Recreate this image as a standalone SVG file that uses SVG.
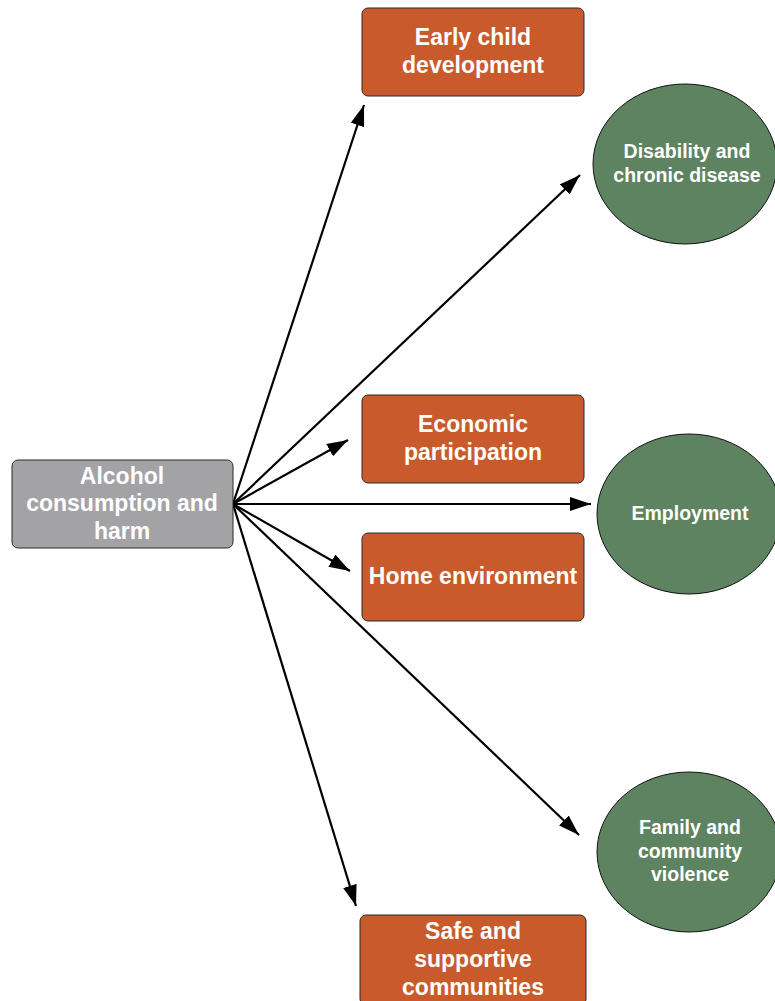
<svg xmlns="http://www.w3.org/2000/svg" width="775" height="1001" viewBox="0 0 775 1001">
<defs>
<style>
.box{fill:#C95A2B;stroke:#2a2a2a;stroke-width:1}
.src{fill:#A3A3A6;stroke:#2a2a2a;stroke-width:1}
.ell{fill:#5E8360;stroke:#111;stroke-width:1}
.t{fill:#fff;font-family:"Liberation Sans",Arial,sans-serif;font-weight:bold;text-anchor:middle}
.t20{font-size:23px}
.t16{font-size:19.5px}
.c{stroke:#000;stroke-width:2.2;fill:none;marker-end:url(#ah)}
</style>
<marker id="ah" markerUnits="userSpaceOnUse" markerWidth="21" markerHeight="14" refX="21" refY="7" orient="auto" viewBox="0 0 21 14">
<path d="M0,0 L21,7 L0,14 z" fill="#000"/>
</marker>
</defs>
<rect width="775" height="1001" fill="#fff"/>
<g id="connectors">
<line class="c" x1="233" y1="504" x2="364" y2="105"/>
<line class="c" x1="233" y1="504" x2="580" y2="175"/>
<line class="c" x1="233" y1="504" x2="348" y2="440"/>
<line class="c" x1="233" y1="504" x2="591" y2="504"/>
<line class="c" x1="233" y1="504" x2="350" y2="571"/>
<line class="c" x1="233" y1="504" x2="579" y2="835"/>
<line class="c" x1="233" y1="504" x2="356" y2="906"/>
</g>
<g id="alcohol">
<rect class="src" x="12" y="460" width="221" height="88" rx="6"/>
<text class="t t20" x="122" y="484">Alcohol</text>
<text class="t t20" x="122" y="511">consumption and</text>
<text class="t t20" x="122" y="539">harm</text>
</g>
<g id="early-child">
<rect class="box" x="362" y="8" width="222" height="88" rx="6"/>
<text class="t t20" x="473" y="45">Early child</text>
<text class="t t20" x="473" y="73">development</text>
</g>
<g id="disability">
<ellipse class="ell" cx="685" cy="164" rx="92" ry="80"/>
<text class="t t16" x="687" y="158">Disability and</text>
<text class="t t16" x="687" y="182">chronic disease</text>
</g>
<g id="economic">
<rect class="box" x="362" y="395" width="222" height="88" rx="6"/>
<text class="t t20" x="473" y="432">Economic</text>
<text class="t t20" x="473" y="460">participation</text>
</g>
<g id="employment">
<ellipse class="ell" cx="689" cy="514" rx="92" ry="80"/>
<text class="t t16" x="690" y="520">Employment</text>
</g>
<g id="home">
<rect class="box" x="362" y="533" width="222" height="88" rx="6"/>
<text class="t t20" x="473" y="584">Home environment</text>
</g>
<g id="family">
<ellipse class="ell" cx="689" cy="852" rx="92" ry="80"/>
<text class="t t16" x="690" y="834">Family and</text>
<text class="t t16" x="690" y="858">community</text>
<text class="t t16" x="690" y="881">violence</text>
</g>
<g id="safe">
<rect class="box" x="360" y="915" width="226" height="90" rx="6"/>
<text class="t t20" x="473" y="939">Safe and</text>
<text class="t t20" x="473" y="967">supportive</text>
<text class="t t20" x="473" y="995">communities</text>
</g>
</svg>
